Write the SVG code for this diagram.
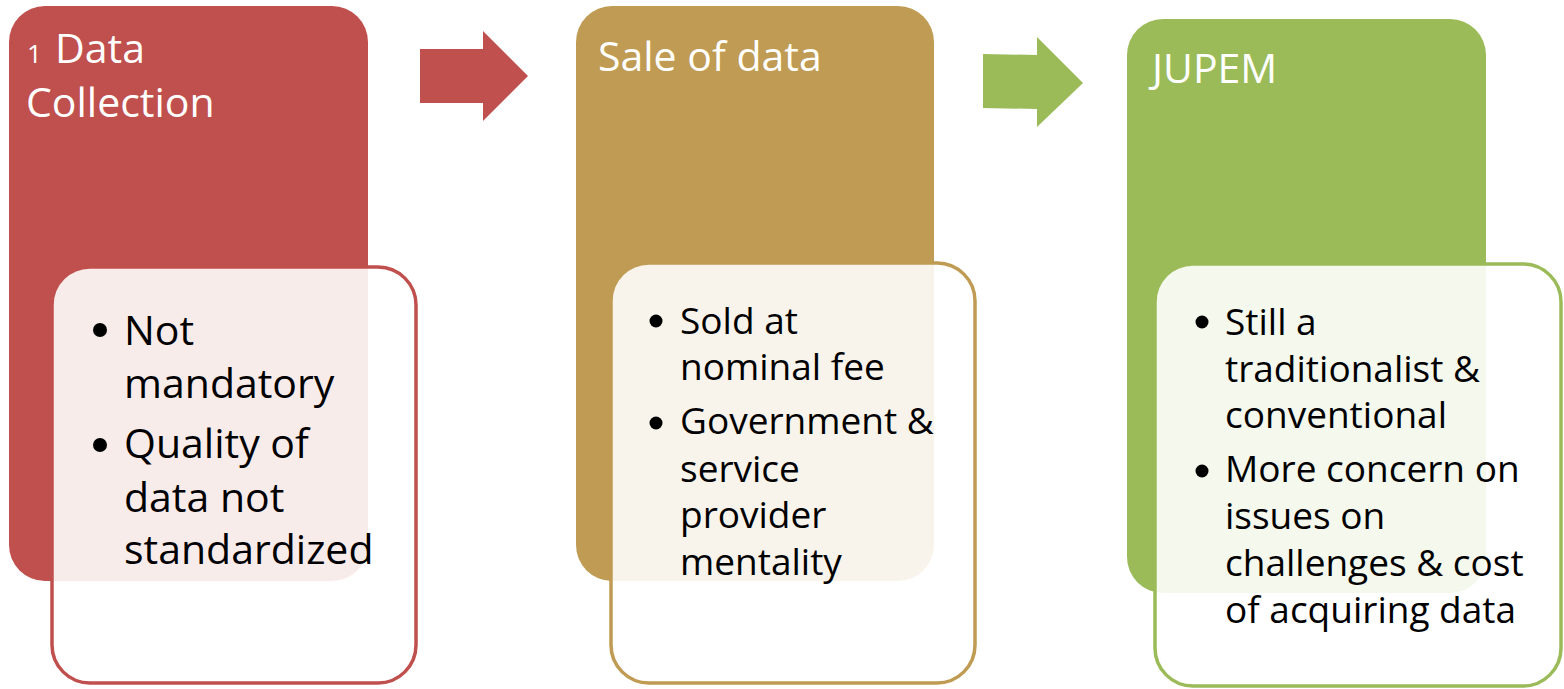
<svg xmlns="http://www.w3.org/2000/svg" width="1564" height="689" viewBox="0 0 1564 689">
<style>
.title{font-family:"Open Sans","Liberation Sans",sans-serif;font-size:41px;fill:#ffffff}
.body{font-family:"Open Sans","Liberation Sans",sans-serif;fill:#000000}
.b1{font-size:41px}
.b2{font-size:37px}
.inner{fill:#ffffff;fill-opacity:0.89;stroke-width:3.5}
.dot{fill:#000000}
</style>
<rect width="1564" height="689" fill="#ffffff"/>
<g id="connectors">
<polygon points="420,49 483,49 483,31 528,76 483,121 483,103 420,103" fill="#C0504D"/>
<polygon points="983,54 1037,55 1037,37 1083,83 1037,127 1037,109 983,108" fill="#9BBB59"/>
</g>
<g id="node1">
<rect x="9" y="6" width="359" height="575" rx="36" fill="#C0504D"/>
<text class="title" x="27" y="63" style="font-size:26px">1</text>
<text class="title" x="55" y="63">Data</text>
<text class="title" x="26" y="117">Collection</text>
<rect class="inner" x="52" y="267" width="364" height="416" rx="38" stroke="#C0504D"/>
<circle class="dot" cx="100" cy="330" r="7"/>
<circle class="dot" cx="100" cy="445" r="7"/>
<text class="body b1" x="124" y="345">Not</text>
<text class="body b1" x="124" y="398">mandatory</text>
<text class="body b1" x="124" y="458">Quality of</text>
<text class="body b1" x="124" y="512">data not</text>
<text class="body b1" x="124" y="564">standardized</text>
</g>
<g id="node2">
<rect x="576" y="6" width="358" height="575" rx="36" fill="#BF9B53"/>
<text class="title" x="598" y="71">Sale of data</text>
<rect class="inner" x="611" y="263" width="364" height="420" rx="38" stroke="#BF9B53"/>
<circle class="dot" cx="656" cy="321" r="6.5"/>
<circle class="dot" cx="656" cy="423" r="6.5"/>
<text class="body b2" x="680" y="334">Sold at</text>
<text class="body b2" x="680" y="380">nominal fee</text>
<text class="body b2" x="680" y="434">Government &amp;</text>
<text class="body b2" x="680" y="482">service</text>
<text class="body b2" x="680" y="528">provider</text>
<text class="body b2" x="680" y="575">mentality</text>
</g>
<g id="node3">
<rect x="1127" y="19" width="359" height="574" rx="36" fill="#9BBB59"/>
<text class="title" x="1152" y="83">JUPEM</text>
<rect class="inner" x="1155" y="264" width="406" height="422" rx="38" stroke="#9BBB59"/>
<circle class="dot" cx="1202" cy="322" r="6.5"/>
<circle class="dot" cx="1202" cy="471" r="6.5"/>
<text class="body b2" x="1225" y="335">Still a</text>
<text class="body b2" x="1225" y="382">traditionalist &amp;</text>
<text class="body b2" x="1225" y="428">conventional</text>
<text class="body b2" x="1225" y="482">More concern on</text>
<text class="body b2" x="1225" y="529">issues on</text>
<text class="body b2" x="1225" y="576">challenges &amp; cost</text>
<text class="body b2" x="1225" y="623">of acquiring data</text>
</g>
</svg>
